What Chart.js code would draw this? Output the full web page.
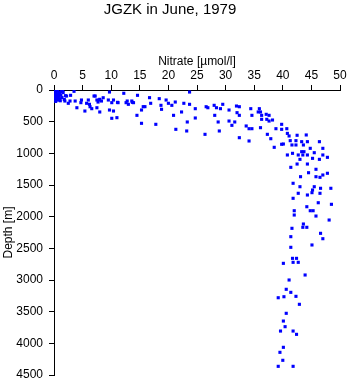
<!DOCTYPE html>
<html>
<head>
<meta charset="utf-8">
<script src="https://cdn.jsdelivr.net/npm/chart.js@4/dist/chart.umd.min.js"></script>
<style>
html,body{margin:0;padding:0;background:#fff;}
canvas{display:block;}
</style>
</head>
<body>
<canvas id="c" width="348" height="384"></canvas>
<script>
const chartTitle = "JGZK in June, 1979";
const xTitle = "Nitrate [\u00b5mol/l]";
const yTitle = "Depth [m]";
const xTicks = [0,5,10,15,20,25,30,35,40,45,50];
const yTicks = [0,500,1000,1500,2000,2500,3000,3500,4000,4500];

const nitrate = [
0.1,0.2,0.3,0.1,0.4,0.5,0.6,0.2,0.8,0.9,1.0,0.3,1.2,1.4,0.7,1.6,0.4,0.6,1.1,0.2,0.5,1.3,0.9,0.15,1.8,0.7,1.5,0.3,1.0,2.0,
3.5,2.2,2.9,1.9,2.8,3.7,4.0,4.8,4.7,5.4,6.0,6.2,6.6,6.3,7.2,7.5,8.0,7.7,8.3,8.6,8.0,7.5,9.7,9.5,10.1,9.7,10.4,10.1,11.0,11.2,12.2,12.6,13.0,12.8,1.5,2.5,5.7,7.0,7.9,10.4,11.1,13.7,
14.6,13.6,13.9,16.7,15.6,15.9,15.3,18.4,16.9,18.7,18.8,14.5,15.3,17.8,19.6,20.0,20.6,21.2,20.9,21.3,22.7,22.3,23.7,23.7,23.3,23.2,24.7,24.7,26.6,26.9,26.4,
28.0,28.4,29.1,29.5,28.1,28.7,28.9,30.6,30.6,31.9,32.4,32.0,32.4,31.6,31.1,32.4,33.6,34.1,34.6,34.4,34.6,34.1,35.9,35.7,36.1,36.3,37.1,37.2,36.3,36.1,37.3,37.9,37.6,38.2,37.6,38.8,39.8,39.8,40.7,40.8,41.1,39.8,38.5,
41.3,42.3,42.5,44.1,44.3,43.3,40.1,41.6,42.3,43.6,46.4,47.0,44.8,43.3,43.7,45.5,41.7,40.8,42.7,43.5,44.3,45.2,43.0,46.4,47.0,47.8,42.5,44.3,41.4,45.8,44.5,43.1,45.8,46.5,47.0,47.8,41.8,43.0,45.5,46.6,48.4,45.2,45.1,42.7,44.3,46.5,41.8,46.2,48.5,44.2,44.8,45.3,42.0,42.0,45.8,48.1,43.6,43.5,44.2,41.6,46.6,41.4,47.0,
45.1,41.4,41.7,42.4,40.1,41.8,42.7,43.9,41.1,40.6,41.4,39.2,40.2,42.3,42.9,40.6,40.1,40.4,39.6,41.8,42.4,40.1,39.5,40.0,39.2,41.8
];
const depth = [
10,30,50,70,90,20,110,130,60,100,140,150,80,120,160,40,5,0,170,100,75,25,35,115,150,135,10,180,55,90,
21,95,84,174,174,174,280,158,200,332,158,226,295,264,95,158,147,190,174,122,347,280,32,158,200,316,332,447,437,200,52,200,226,174,10,210,210,95,158,158,195,195,
84,174,200,121,263,263,316,137,210,242,305,400,526,542,158,210,242,190,400,621,210,347,226,32,505,647,295,442,264,280,700,
242,280,295,226,400,505,647,316,490,253,264,358,400,505,558,753,568,611,611,295,400,805,295,347,347,400,384,463,463,595,700,769,490,474,400,611,542,621,611,685,726,857,905,
800,800,715,710,816,816,853,868,868,868,816,921,921,974,974,990,1000,1026,1026,1026,1026,1079,1095,1095,1026,1063,1169,1169,1221,1252,1306,1369,1369,1379,1342,1315,1473,1527,1527,1552,1552,1579,1621,1631,1658,1631,1710,1780,1805,1843,1906,1906,1906,1974,1990,2053,2116,2168,2168,2184,2263,2316,2348,
2447,2484,2658,2658,2737,2721,2721,2921,3000,3147,3195,3280,3264,3258,3384,3526,3648,3737,3806,3806,3858,4063,4142,4268,4363,4363
];

const points = nitrate.map((v, i) => ({x: v, y: depth[i]}));
const FONT = "'Liberation Sans', Arial, Helvetica, sans-serif";

new Chart(document.getElementById('c'), {
  type: 'scatter',
  data: {
    datasets: [{
      data: points,
      pointStyle: 'rect',
      pointRadius: 2.2,
      pointBorderWidth: 0,
      backgroundColor: '#0000ff',
      borderColor: '#0000ff'
    }]
  },
  options: {
    responsive: false,
    devicePixelRatio: 1,
    animation: false,
    layout: {padding: {top: 0, left: 0, right: 8, bottom: 9}},
    plugins: {
      legend: {display: false},
      tooltip: {enabled: false},
      title: {
        display: true,
        text: chartTitle,
        color: '#000',
        font: {family: FONT, size: 15, weight: 'normal', lineHeight: 1.2},
        padding: {top: 1, bottom: 0}
      }
    },
    scales: {
      x: {
        type: 'linear',
        position: 'top',
        min: xTicks[0],
        max: xTicks[xTicks.length - 1],
        afterBuildTicks: s => { s.ticks = xTicks.map(v => ({value: v})); },
        afterFit: s => { s.height = 71; s.paddingLeft = 0; s.paddingRight = 0; },
        grid: {drawOnChartArea: false, drawTicks: true, tickLength: 5, color: '#000', lineWidth: 1},
        border: {display: true, color: '#000', width: 1},
        ticks: {color: '#000', padding: 2, maxRotation: 0, font: {family: FONT, size: 12}, callback: v => String(v)},
        title: {display: true, text: xTitle, color: '#000', padding: {top: 35, bottom: 0}, font: {family: FONT, size: 12}}
      },
      y: {
        type: 'linear',
        position: 'left',
        reverse: true,
        min: yTicks[0],
        max: yTicks[yTicks.length - 1],
        afterBuildTicks: s => { s.ticks = yTicks.map(v => ({value: v})); },
        afterFit: s => { s.width = 54; s.paddingTop = 0; s.paddingBottom = 0; },
        grid: {drawOnChartArea: false, drawTicks: true, tickLength: 5, color: '#000', lineWidth: 1},
        border: {display: true, color: '#000', width: 1},
        ticks: {color: '#000', padding: 6, font: {family: FONT, size: 12}, callback: v => String(v)},
        title: {display: true, text: yTitle, color: '#000', padding: {top: 1, bottom: 0}, font: {family: FONT, size: 12}}
      }
    }
  }
});
</script>
</body>
</html>
